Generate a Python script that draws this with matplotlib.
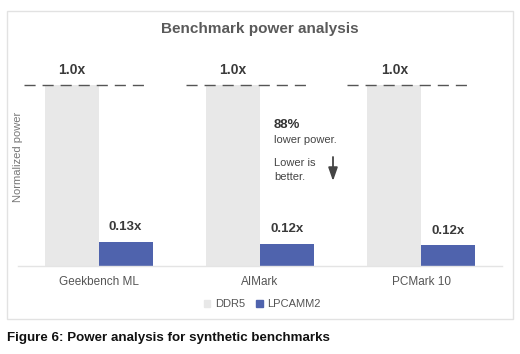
import numpy as np
import matplotlib.pyplot as plt
from matplotlib.patches import Rectangle, Patch, FancyArrowPatch

# data
categories = ['Geekbench ML', 'AIMark', 'PCMark 10']
ddr5 = [1.0, 1.0, 1.0]
lpcamm2 = [0.133, 0.122, 0.115]
ddr5_labels = ['1.0x', '1.0x', '1.0x']
lpcamm2_labels = ['0.13x', '0.12x', '0.12x']

plt.rcParams['font.family'] = ['Liberation Sans', 'DejaVu Sans']

W, H = 520, 354
fig = plt.figure(figsize=(W / 100, H / 100), dpi=100)


def fx(px):
    return px / W


def fy(py):
    return 1 - py / H


# outer frame
fig.patches.append(Rectangle((fx(7), fy(319)), fx(506), (319 - 11) / H,
                             transform=fig.transFigure, fill=False,
                             edgecolor='#e2e2e2', linewidth=1.0))

# axes: baseline at y=265.7 px, value 1.0 at y=85 px
ymax = 1.25
base = 265.7
unit = 180.7
ax = fig.add_axes([fx(18), fy(base), fx(502) - fx(18), ymax * unit / H])
ax.set_xlim(-0.5, 2.5)
ax.set_ylim(0, ymax)
for s in ['top', 'right', 'left']:
    ax.spines[s].set_visible(False)
ax.spines['bottom'].set_color('#e4e4e4')
ax.spines['bottom'].set_linewidth(1.0)
ax.set_yticks([])
ax.set_xticks([])

x = np.arange(len(categories))
bw = 0.334
ax.bar(x - bw / 2, ddr5, bw, color='#e8e8e8', label='DDR5')
ax.bar(x + bw / 2, lpcamm2, bw, color='#4f63ad', label='LPCAMM2')

# dashed reference lines
for xi in x:
    ax.hlines(1.0, xi - 0.46, xi + 0.29, colors='#555555', linewidth=1.0,
              linestyles=(0, (8, 5)))

for xi, v, lab in zip(x, ddr5, ddr5_labels):
    ax.annotate(lab, (xi - bw / 2, v), xytext=(0, 6), textcoords='offset points',
                ha='center', va='bottom', fontsize=10, fontweight='bold',
                color='#3a3a3a')
for xi, v, lab in zip(x, lpcamm2, lpcamm2_labels):
    ax.annotate(lab, (xi + bw / 2, v), xytext=(0, 6), textcoords='offset points',
                ha='center', va='bottom', fontsize=9.5, fontweight='bold',
                color='#3a3a3a')

# category labels
for xi, c in zip(x, categories):
    ax.text(xi, -0.09, c, ha='center', va='center', fontsize=8.5,
            color='#555555')

# title
fig.text(0.5, fy(29), 'Benchmark power analysis', ha='center', va='center',
         fontsize=11, fontweight='bold', color='#5a5a5a')

# y label
fig.text(fx(18), fy(157), 'Normalized power', rotation=90, ha='center',
         va='center', fontsize=8, color='#777777')

# annotation
fig.text(fx(274), fy(125), '88%', ha='left', va='center', fontsize=9.5,
         fontweight='bold', color='#333333')
fig.text(fx(274), fy(140), 'lower power.', ha='left', va='center',
         fontsize=8, color='#444444')
fig.text(fx(274), fy(163), 'Lower is', ha='left', va='center',
         fontsize=8, color='#444444')
fig.text(fx(274), fy(177), 'better.', ha='left', va='center',
         fontsize=8, color='#444444')
fig.add_artist(FancyArrowPatch(
    (fx(333), fy(157)), (fx(333), fy(181)), transform=fig.transFigure,
    arrowstyle='-|>,head_length=8,head_width=2.8', color='#444444',
    linewidth=1.3, mutation_scale=1, shrinkA=0, shrinkB=0))

# legend
handles = [Patch(color='#e8e8e8', label='DDR5'),
           Patch(color='#4f63ad', label='LPCAMM2')]
fig.legend(handles=handles, loc='center', bbox_to_anchor=(fx(262), fy(304)),
           ncol=2, frameon=False, fontsize=8, handlelength=0.6,
           handleheight=0.6, handletextpad=0.4, columnspacing=1.0,
           labelcolor='#555555')

# caption
fig.text(fx(7), fy(338), 'Figure 6: Power analysis for synthetic benchmarks',
         ha='left', va='center', fontsize=9.6, fontweight='bold', color='#111111')

fig.savefig('out.png', dpi=100)
